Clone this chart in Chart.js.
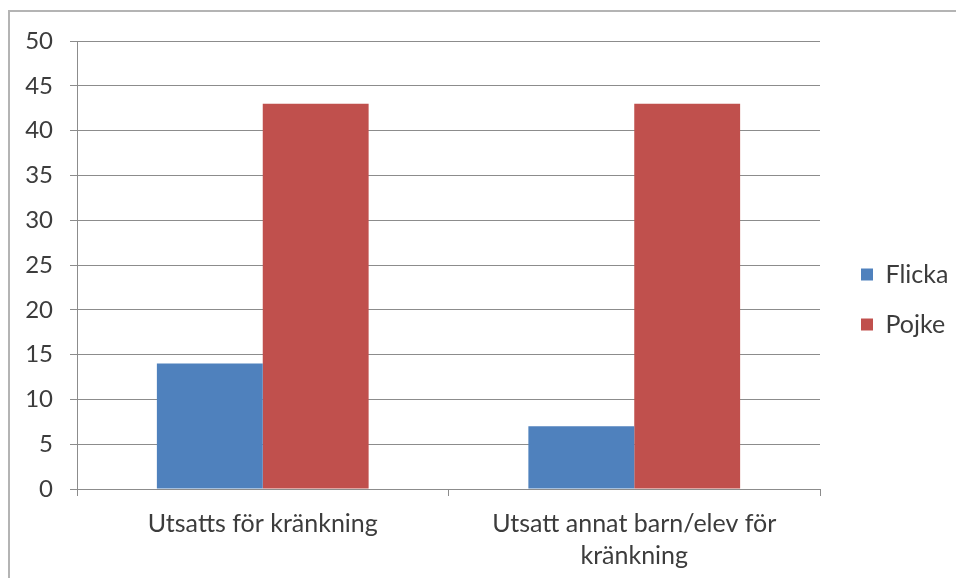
<!DOCTYPE html>
<html>
<head>
<meta charset="utf-8">
<script src="https://cdn.jsdelivr.net/npm/chart.js@4.4.1/dist/chart.umd.min.js"></script>
<style>
  html, body { margin: 0; padding: 0; background: #fff; }
  #wrap { position: relative; width: 956px; height: 578px; overflow: hidden; }
  #frame { position: absolute; left: 8px; top: 10px; width: 2000px; height: 2000px;
           border-left: 2px solid #b4b4b4; border-top: 2px solid #b4b4b4; pointer-events: none; }
  canvas { position: absolute; left: 0; top: 0; }
</style>
</head>
<body>
<div id="wrap">
  <canvas id="c" width="956" height="578"></canvas>
  <div id="frame"></div>
</div>
<script>
const categories = [
  "Utsatts för kränkning",
  ["Utsatt annat barn/elev för", "kränkning"]
];
const seriesNames = ["Flicka", "Pojke"];
const flickaValues = [14, 7];
const pojkeValues = [43, 43];
const yMin = 0, yMax = 50, yStep = 5;

const textColor = '#3c3c3c';
const gridColor = '#8c8c8c';

const legendShiftY = -10;
const legendPlace = {
  id: 'legendPlace',
  beforeInit(chart) {
    const lg = chart.legend;
    if (lg) {
      const orig = lg.fit;
      lg.fit = function () { orig.call(this); this.width = 136; };
    }
  },
  afterLayout(chart) {
    const lg = chart.legend;
    if (lg) {
      lg.left = 836; lg.right = 956;
      lg.top += legendShiftY; lg.bottom += legendShiftY;
    }
  }
};

new Chart(document.getElementById('c'), {
  type: 'bar',
  data: {
    labels: categories,
    datasets: [
      { label: seriesNames[0], data: flickaValues, backgroundColor: '#4F81BD',
        categoryPercentage: 0.57, barPercentage: 1.0 },
      { label: seriesNames[1], data: pojkeValues, backgroundColor: '#C0504D',
        categoryPercentage: 0.57, barPercentage: 1.0 }
    ]
  },
  options: {
    responsive: false,
    animation: false,
    devicePixelRatio: 1,
    layout: { padding: { left: 0, top: 41, right: 0, bottom: 0 } },
    font: { family: 'Lato' },
    plugins: {
      legend: {
        position: 'right',
        align: 'center',
        labels: {
          boxWidth: 12, boxHeight: 12, padding: 25,
          color: textColor,
          font: { family: 'Lato', size: 25 }
        }
      },
      tooltip: { enabled: false }
    },
    scales: {
      x: {
        grid: { drawOnChartArea: false, drawTicks: true, tickLength: 7, color: gridColor },
        border: { color: gridColor, width: 1 },
        ticks: { color: textColor, font: { family: 'Lato', size: 25, lineHeight: 1.28 }, padding: 12, maxRotation: 0 },
        afterFit(s) { s.height = 578 - 489; }
      },
      y: {
        min: yMin, max: yMax,
        ticks: { stepSize: yStep, color: textColor, font: { family: 'Lato', size: 24 }, padding: 17 },
        grid: { color: gridColor, tickLength: 7 },
        border: { color: gridColor, width: 1 },
        afterFit(s) { s.width = 77; }
      }
    }
  },
  plugins: [legendPlace]
});
</script>
</body>
</html>
